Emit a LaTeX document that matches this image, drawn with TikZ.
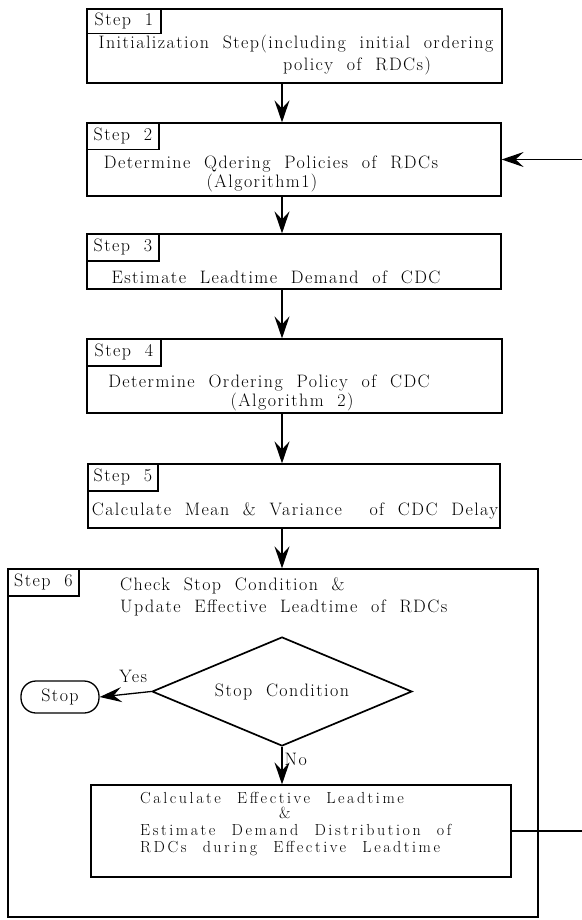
\documentclass[tikz,border=0pt]{standalone}
\usepackage{fontspec}
\setmainfont{Latin Modern Roman}[LetterSpace=8,WordSpace=2.0]
\newfontfamily\calcfont{Latin Modern Roman}[LetterSpace=16,WordSpace=2.2]
\usetikzlibrary{arrows.meta, shapes.geometric}

\tikzset{
  box/.style={draw, line width=1.2pt, inner sep=0pt},
  steplabel/.style={draw, line width=1.1pt, anchor=north west, minimum height=27, inner sep=0pt},
  body/.style={anchor=base, inner sep=0pt},
  bodyleft/.style={anchor=base west, inner sep=0pt},
  arr/.style={line width=1.3pt, -{Stealth[length=22pt, width=15pt, inset=8pt]}},
}

\begin{document}
\begin{tikzpicture}[x=1pt, y=-1pt, font=\fontsize{18}{21}\selectfont]
\useasboundingbox (0,0) rectangle (581,920);

% step boxes
\node[box, minimum width=415, minimum height=74] (box1) at (294.5,46) {};
\node[box, minimum width=414, minimum height=73] (box2) at (294,159.5) {};
\node[box, minimum width=414, minimum height=55] (box3) at (294,261.5) {};
\node[box, minimum width=415, minimum height=74] (box4) at (294.5,376) {};
\node[box, minimum width=412, minimum height=64] (box5) at (294,496) {};
\node[box, minimum width=530, minimum height=348] (box6) at (273,743) {};

\node[steplabel, minimum width=74, minimum height=25] (lab1) at (box1.north west) {Step 1};
\node[steplabel, minimum width=72] (lab2) at (box2.north west) {Step 2};
\node[steplabel, minimum width=72] (lab3) at (box3.north west) {Step 3};
\node[steplabel, minimum width=74] (lab4) at (box4.north west) {Step 4};
\node[steplabel, minimum width=70] (lab5) at (box5.north west) {Step 5};
\node[steplabel, minimum width=71] (lab6) at (box6.north west) {Step 6};

% texts
\node[body] (t1a) at (296,49) {Initialization Step(including initial ordering};
\node[body] (t1b) at (357,71) {policy of RDCs)};
\node[body] (t2a) at (271,169) {Determine Qdering Policies of RDCs};
\node[body] (t2b) at (262,188) {(Algorithm1)};
\node[body] (t3) at (276,283) {Estimate Leadtime Demand of CDC};
\node[body] (t4a) at (269,387) {Determine Ordering Policy of CDC};
\node[body] (t4b) at (292,406) {(Algorithm 2)};
\node[body] (t5) at (295,515) {Calculate Mean \& Variance\ \ of CDC Delay};
\node[bodyleft] (t6a) at (120,590) {Check Stop Condition \&};
\node[bodyleft] (t6b) at (120,612) {Update Effective Leadtime of RDCs};

% inside step 6
\node[draw, diamond, aspect=2.4, line width=1.7pt, minimum width=260, minimum height=109, inner sep=0pt] (cond) at (282,691.5) {Stop Condition};
\node[draw, line width=1.3pt, rounded corners=15, minimum width=78, minimum height=32, inner sep=0pt] (stop) at (60,697) {Stop};
\node[box, minimum width=420, minimum height=92] (calc) at (301,831) {};
\begin{scope}[font={\calcfont\fontsize{16}{14}\selectfont}]
\node[bodyleft] (c1) at (140,803) {Calculate Effective Leadtime};
\node[body] (c2) at (285,818) {\&};
\node[bodyleft] (c3) at (140,835) {Estimate Demand Distribution of};
\node[bodyleft] (c4) at (140,852) {RDCs during Effective Leadtime};
\end{scope}

% connectors
\draw[arr] (box1.south -| cond) -- (box2.north -| cond);
\draw[arr] (box2.south -| cond) -- (box3.north -| cond);
\draw[arr] (box3.south -| cond) -- (box4.north -| cond);
\draw[arr] (box4.south -| cond) -- (box5.north -| cond);
\draw[arr] (box5.south -| cond) -- (box6.north -| cond);
\draw[arr] (cond.west) -- (stop.east) node[pos=0.35, above=7pt] {Yes};
\draw[arr] (cond.south) -- (calc.north -| cond) node[pos=0.1, anchor=north west, inner sep=2pt] {No};
\draw[arr] (calc.east) -- ++(75,0) |- (box2.east);
\end{tikzpicture}
\end{document}
